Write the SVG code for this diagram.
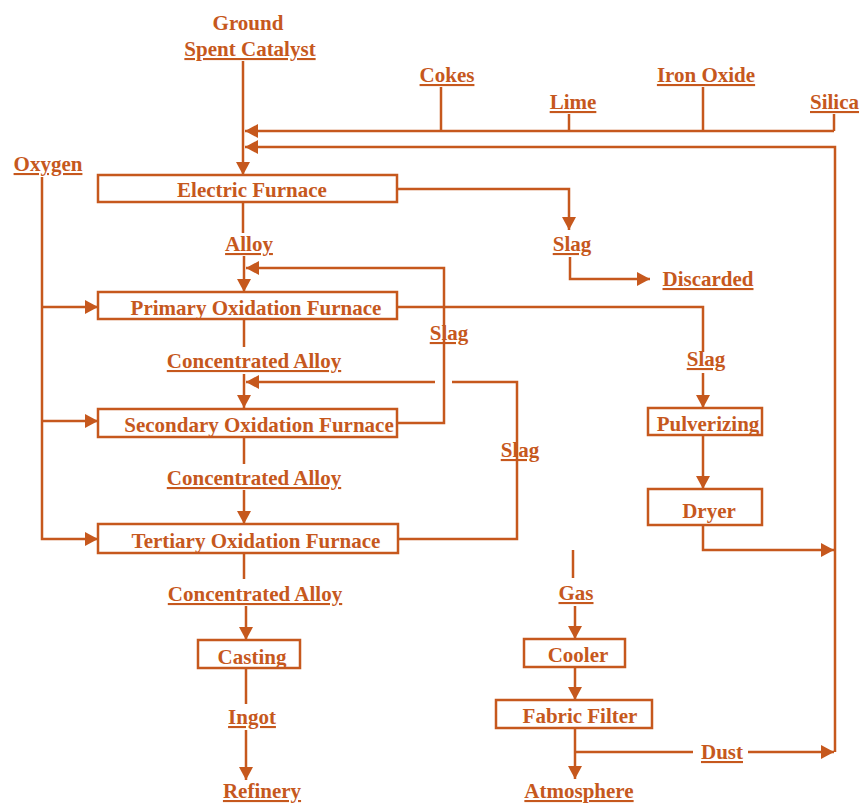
<svg xmlns="http://www.w3.org/2000/svg" width="865" height="806" viewBox="0 0 865 806">
<style>
.t{font-family:"Liberation Serif","Times New Roman",serif;font-weight:bold;font-size:21px;fill:#c6581d;text-anchor:middle}
.u{text-decoration:underline}
.b{fill:none;stroke:#c6581d;stroke-width:2.5}
.c path,.c line{fill:none;stroke:#c6581d;stroke-width:2.5}
.a{marker-end:url(#ah)}
</style>
<defs>
<marker id="ah" markerUnits="userSpaceOnUse" markerWidth="14" markerHeight="14" refX="13" refY="7" orient="auto">
<path d="M0,0 L13,7 L0,14 z" fill="#c6581d"/>
</marker>
</defs>
<rect width="865" height="806" fill="#fff"/>
<g id="connectors" class="c">
<line x1="243" y1="61" x2="243" y2="175" class="a"/>
<line x1="441" y1="87" x2="441" y2="131"/>
<line x1="569" y1="114" x2="569" y2="131"/>
<line x1="703" y1="87" x2="703" y2="131"/>
<line x1="834" y1="114" x2="834" y2="131"/>
<path d="M834,131 H245" class="a"/>
<path d="M835,752 V147 H245" class="a"/>
<path d="M703,525 V550 H834" class="a"/>
<path d="M748,752 H834" class="a"/>
<path d="M397,189 H569 V230" class="a"/>
<path d="M570,257 V279 H650" class="a"/>
<path d="M42,177 V539 H98" class="a"/>
<path d="M42,307 H98" class="a"/>
<path d="M42,421 H98" class="a"/>
<line x1="243" y1="202" x2="243" y2="233"/>
<line x1="244" y1="256" x2="244" y2="292" class="a"/>
<path d="M398,423 H444 V268 H246" class="a"/>
<line x1="244" y1="319" x2="244" y2="347"/>
<line x1="244" y1="374" x2="244" y2="408" class="a"/>
<path d="M398,539 H517 V382 H452"/>
<path d="M435,382 H246" class="a"/>
<path d="M397,307 H703 V352"/>
<line x1="703" y1="373" x2="703" y2="408" class="a"/>
<line x1="703" y1="435" x2="703" y2="489" class="a"/>
<line x1="244" y1="437" x2="244" y2="464"/>
<line x1="244" y1="490" x2="244" y2="524" class="a"/>
<line x1="244" y1="553" x2="244" y2="579"/>
<line x1="246" y1="606" x2="246" y2="640" class="a"/>
<line x1="246" y1="668" x2="246" y2="704"/>
<line x1="246" y1="730" x2="246" y2="780" class="a"/>
<line x1="573" y1="550" x2="573" y2="578"/>
<line x1="575" y1="606" x2="575" y2="639" class="a"/>
<line x1="575" y1="667" x2="575" y2="700" class="a"/>
<line x1="575" y1="728" x2="575" y2="779" class="a"/>
<path d="M575,752 H693"/>
</g>
<g id="spent-catalyst"><text class="t" x="248" y="30">Ground</text><text class="t u" x="250" y="56">Spent Catalyst</text></g>
<g id="cokes"><text class="t u" x="447" y="82">Cokes</text></g>
<g id="lime"><text class="t u" x="573" y="109">Lime</text></g>
<g id="iron-oxide"><text class="t u" x="706" y="82">Iron Oxide</text></g>
<g id="silica"><text class="t u" x="810" y="109" style="text-anchor:start">Silica</text></g>
<g id="oxygen"><text class="t u" x="48" y="171">Oxygen</text></g>
<g id="electric-furnace"><rect class="b" x="98" y="175" width="299" height="27"/><text class="t" x="252" y="197">Electric Furnace</text></g>
<g id="slag-ef"><text class="t u" x="572" y="251">Slag</text></g>
<g id="discarded"><text class="t u" x="708" y="286">Discarded</text></g>
<g id="alloy"><text class="t u" x="249" y="251">Alloy</text></g>
<g id="primary"><rect class="b" x="98" y="292" width="299" height="27"/><text class="t" x="256" y="315">Primary Oxidation Furnace</text></g>
<g id="slag-secondary"><text class="t u" x="449" y="340">Slag</text></g>
<g id="conc-alloy-1"><text class="t u" x="254" y="368">Concentrated Alloy</text></g>
<g id="slag-primary"><text class="t u" x="706" y="366">Slag</text></g>
<g id="secondary"><rect class="b" x="98" y="409" width="299" height="28"/><text class="t" x="259" y="432">Secondary Oxidation Furnace</text></g>
<g id="pulverizing"><rect class="b" x="648" y="408" width="114" height="27"/><text class="t" x="708" y="431">Pulverizing</text></g>
<g id="slag-tertiary"><text class="t u" x="520" y="457">Slag</text></g>
<g id="conc-alloy-2"><text class="t u" x="254" y="485">Concentrated Alloy</text></g>
<g id="dryer"><rect class="b" x="648" y="489" width="114" height="36"/><text class="t" x="709" y="518">Dryer</text></g>
<g id="tertiary"><rect class="b" x="98" y="524" width="300" height="29"/><text class="t" x="256" y="548">Tertiary Oxidation Furnace</text></g>
<g id="conc-alloy-3"><text class="t u" x="255" y="601">Concentrated Alloy</text></g>
<g id="gas"><text class="t u" x="576" y="600">Gas</text></g>
<g id="casting"><rect class="b" x="198" y="640" width="102" height="28"/><text class="t" x="252" y="664">Casting</text></g>
<g id="cooler"><rect class="b" x="524" y="639" width="101" height="28"/><text class="t" x="578" y="662">Cooler</text></g>
<g id="fabric-filter"><rect class="b" x="496" y="700" width="156" height="28"/><text class="t" x="580" y="723">Fabric Filter</text></g>
<g id="ingot"><text class="t u" x="252" y="724">Ingot</text></g>
<g id="dust"><text class="t u" x="722" y="759">Dust</text></g>
<g id="refinery"><text class="t u" x="262" y="798">Refinery</text></g>
<g id="atmosphere"><text class="t u" x="579" y="798">Atmosphere</text></g>
</svg>
